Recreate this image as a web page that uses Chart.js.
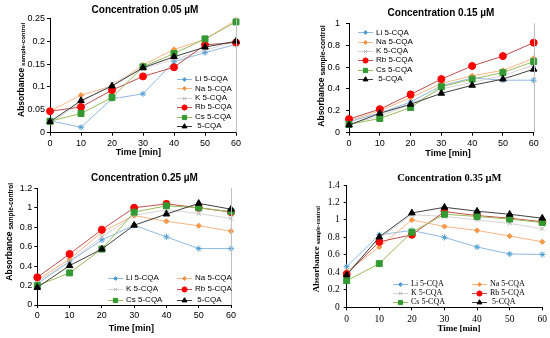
<!DOCTYPE html>
<html><head><meta charset="utf-8">
<script src="https://cdn.jsdelivr.net/npm/chart.js@4"></script>
<style>
html,body{margin:0;padding:0;background:#fff;}
#wrap{position:relative;width:550px;height:338px;overflow:hidden;}
canvas{position:absolute;}
</style></head><body>
<div id="wrap">
<canvas id="c1" width="275" height="169" style="left:0;top:0"></canvas>
<canvas id="c2" width="275" height="169" style="left:275px;top:0"></canvas>
<canvas id="c3" width="275" height="169" style="left:0;top:169px"></canvas>
<canvas id="c4" width="275" height="169" style="left:275px;top:169px"></canvas>
</div>
<script>
// ---- data ----
const times = [0, 10, 20, 30, 40, 50, 60];
const xTicks = [0, 10, 20, 30, 40, 50, 60];
const seriesNames = ['Li 5-CQA', 'Na 5-CQA', 'K 5-CQA', 'Rb 5-CQA', 'Cs 5-CQA', ' 5-CQA'];
const panelTitles = ['Concentration 0.05 µM', 'Concentration 0.15 µM', 'Concentration 0.25 µM', 'Concentration 0.35 µM'];
const xTitle = 'Time [min]';
const yTitleMain = 'Absorbance';
const yTitleSub = 'sample-control';

const yTicks005 = [0, 0.05, 0.1, 0.15, 0.2, 0.25];
const yTicks015 = [0, 0.2, 0.4, 0.6, 0.8, 1];
const yTicks025 = [0, 0.2, 0.4, 0.6, 0.8, 1, 1.2];
const yTicks035 = [0, 0.2, 0.4, 0.6, 0.8, 1, 1.2, 1.4];

// 0.05 µM
const li005  = [0.026, 0.012, 0.074, 0.085, 0.155, 0.175, 0.193];
const na005  = [0.047, 0.082, 0.102, 0.148, 0.182, 0.204, 0.246];
const k005   = [0.021, 0.066, 0.107, 0.140, 0.160, 0.180, 0.200];
const rb005  = [0.047, 0.056, 0.093, 0.123, 0.143, 0.192, 0.197];
const cs005  = [0.025, 0.042, 0.077, 0.144, 0.173, 0.205, 0.242];
const cqa005 = [0.024, 0.070, 0.102, 0.142, 0.166, 0.187, 0.200];
// 0.15 µM
const li015  = [0.10, 0.18, 0.28, 0.43, 0.50, 0.48, 0.48];
const na015  = [0.11, 0.20, 0.32, 0.45, 0.52, 0.57, 0.68];
const k015   = [0.08, 0.15, 0.26, 0.40, 0.46, 0.52, 0.62];
const rb015  = [0.125, 0.215, 0.35, 0.49, 0.61, 0.70, 0.823];
const cs015  = [0.076, 0.13, 0.23, 0.42, 0.49, 0.55, 0.65];
const cqa015 = [0.07, 0.177, 0.26, 0.36, 0.433, 0.49, 0.58];
// 0.25 µM
const li025  = [0.22, 0.445, 0.67, 0.82, 0.70, 0.58, 0.58];
const na025  = [0.26, 0.47, 0.75, 0.92, 0.86, 0.815, 0.76];
const k025   = [0.24, 0.45, 0.70, 0.92, 0.98, 0.94, 0.89];
const rb025  = [0.285, 0.525, 0.775, 1.00, 1.04, 1.00, 0.955];
const cs025  = [0.20, 0.33, 0.575, 0.955, 1.02, 1.00, 0.96];
const cqa025 = [0.18, 0.405, 0.575, 0.82, 0.935, 1.045, 0.985];
// 0.35 µM
const li035  = [0.465, 0.83, 0.88, 0.80, 0.69, 0.61, 0.605];
const na035  = [0.41, 0.69, 1.00, 0.925, 0.88, 0.815, 0.75];
const k035   = [0.39, 0.79, 1.06, 1.04, 1.00, 0.96, 0.90];
const rb035  = [0.38, 0.75, 0.83, 1.095, 1.05, 1.02, 0.98];
const cs035  = [0.305, 0.50, 0.86, 1.065, 1.04, 1.01, 0.97];
const cqa035 = [0.37, 0.805, 1.08, 1.145, 1.10, 1.065, 1.02];

// ---- styles ----
const lineColors   = ['#8DB9E2', '#F9B585', '#D4D4D4', '#C0504D', '#9BBB59', '#404040'];
const markerColors = ['#4F9FD6', '#F79646', '#B0B0B0', '#FF0000', '#339933', '#000000'];
const markerStyles = ['star', 'rectRot', 'crossRot', 'circle', 'rect', 'triangle'];
const markerRadii  = [3, 2.6, 3, 3.5, 4.2, 3.8];
const legendRadii  = [2.2, 2.0, 2.2, 2.6, 3.0, 2.8];

const panels = [
  { id: 'c1', series: [li005, na005, k005, rb005, cs005, cqa005], yTicks: yTicks005, family: 'Liberation Sans',
    area: { l: 50, r: 236, t: 18.3, b: 132.7 }, yPad: 2, xPad: 2, tickSize: 9,
    titleX: 145, titleY: 10, titleSize: 10, xTitleX: 138.3, xTitleY: 152.7, xTitleSize: 9,
    yTitleX: 21.7, yTitleStart: 117, yTitleSize: 8.5, subSize: 6, rightBorder: '#BFBFBF',
    legCols: 1, legX: [177], legY: 79, legDy: 9.4, legSize: 8 },
  { id: 'c2', series: [li015, na015, k015, rb015, cs015, cqa015], yTicks: yTicks015, family: 'Liberation Sans',
    area: { l: 74, r: 258.7, t: 23.3, b: 132.7 }, yPad: 6, xPad: 2, tickSize: 9,
    titleX: 166, titleY: 13.3, titleSize: 10, xTitleX: 173, xTitleY: 154, xTitleSize: 9,
    yTitleX: 46.7, yTitleStart: 126.7, yTitleSize: 8.5, subSize: 7, rightBorder: '#BFBFBF',
    legCols: 1, legX: [83], legY: 32.3, legDy: 9.3, legSize: 8 },
  { id: 'c3', series: [li025, na025, k025, rb025, cs025, cqa025], yTicks: yTicks025, family: 'Liberation Sans',
    area: { l: 37.3, r: 231, t: 19.3, b: 136 }, yPad: 2, xPad: 2, tickSize: 9,
    titleX: 144.5, titleY: 9, titleSize: 10, xTitleX: 131.3, xTitleY: 159.3, xTitleSize: 9,
    yTitleX: 10, yTitleStart: 111.7, yTitleSize: 8.5, subSize: 6.5, rightBorder: '#BFBFBF',
    legCols: 2, legX: [108, 177], legY: 108.5, legDy: 11, legSize: 8 },
  { id: 'c4', series: [li035, na035, k035, rb035, cs035, cqa035], yTicks: yTicks035, family: 'Liberation Serif',
    area: { l: 71.7, r: 268.3, t: 16, b: 138.3 }, yPad: 4, xPad: 3, tickSize: 9.5,
    titleX: 174.3, titleY: 9.3, titleSize: 10.5, xTitleX: 184, xTitleY: 160, xTitleSize: 9,
    yTitleX: 41.7, yTitleStart: 123.3, yTitleSize: 9, subSize: 6, rightBorder: null,
    legCols: 2, legX: [118, 197], legY: 115, legDy: 8.8, legSize: 8 }
];

function drawMarker(ctx, style, r, x, y) {
  if (Chart.helpers && Chart.helpers.drawPoint) {
    Chart.helpers.drawPoint(ctx, { pointStyle: style, radius: r, borderWidth: 1, rotation: 0 }, x, y);
  } else {
    ctx.beginPath(); ctx.arc(x, y, r, 0, Math.PI * 2); ctx.fill(); ctx.stroke();
  }
}

const overlay = {
  id: 'overlay',
  afterDraw(chart, args, p) {
    const ctx = chart.ctx;
    const a = chart.chartArea;
    ctx.save();
    if (p.rightBorder) {
      ctx.strokeStyle = p.rightBorder; ctx.lineWidth = 1;
      const xr = Math.round(a.right) + 0.5;
      ctx.beginPath(); ctx.moveTo(xr, a.top); ctx.lineTo(xr, a.bottom); ctx.stroke();
    }
    ctx.fillStyle = '#000';
    ctx.textAlign = 'center'; ctx.textBaseline = 'middle';
    ctx.font = 'bold ' + p.titleSize + 'px "' + p.family + '"';
    ctx.fillText(p.title, p.titleX, p.titleY);
    ctx.font = 'bold ' + p.xTitleSize + 'px "' + p.family + '"';
    ctx.fillText(xTitle, p.xTitleX, p.xTitleY);
    // y title with subscript
    ctx.save();
    ctx.translate(p.yTitleX, p.yTitleStart);
    ctx.rotate(-Math.PI / 2);
    ctx.textAlign = 'left';
    ctx.font = 'bold ' + p.yTitleSize + 'px "' + p.family + '"';
    ctx.fillText(yTitleMain, 0, 0);
    const w = ctx.measureText(yTitleMain).width;
    ctx.font = 'bold ' + p.subSize + 'px "' + p.family + '"';
    ctx.fillText(yTitleSub, w + 2, 1.5);
    ctx.restore();
    // legend
    chart.data.datasets.forEach((ds, i) => {
      const col = i % p.legCols, row = Math.floor(i / p.legCols);
      const x0 = p.legX[col], y = p.legY + row * p.legDy;
      ctx.strokeStyle = ds.borderColor; ctx.lineWidth = 1;
      ctx.beginPath(); ctx.moveTo(x0, Math.round(y) + 0.5); ctx.lineTo(x0 + 15, Math.round(y) + 0.5); ctx.stroke();
      ctx.fillStyle = ds.pointBackgroundColor; ctx.strokeStyle = ds.pointBorderColor; ctx.lineWidth = 1;
      drawMarker(ctx, ds.pointStyle, legendRadii[i], x0 + 7.5, Math.round(y) + 0.5);
      ctx.fillStyle = '#000'; ctx.textAlign = 'left'; ctx.textBaseline = 'middle';
      ctx.font = p.legSize + 'px "' + p.family + '"';
      ctx.fillText(ds.label, x0 + 18, y);
    });
    ctx.restore();
  }
};

panels.forEach((p, pi) => {
  const datasets = p.series.map((vals, i) => ({
    label: seriesNames[i],
    data: times.map((t, k) => ({ x: t, y: vals[k] })),
    borderColor: lineColors[i],
    backgroundColor: markerColors[i],
    pointBackgroundColor: markerColors[i],
    pointBorderColor: markerColors[i],
    pointStyle: markerStyles[i],
    pointRadius: markerRadii[i],
    pointBorderWidth: 1,
    borderWidth: 1,
    tension: 0,
    fill: false,
    clip: false,
    order: 6 - i
  }));
  const yMax = p.yTicks[p.yTicks.length - 1];
  new Chart(document.getElementById(p.id), {
    type: 'line',
    data: { datasets },
    options: {
      responsive: false,
      animation: false,
      devicePixelRatio: 1,
      layout: { padding: { left: 0, top: p.area.t, right: 275 - p.area.r, bottom: 0 } },
      plugins: {
        legend: { display: false },
        tooltip: { enabled: false },
        title: { display: false },
        overlay: Object.assign({ title: panelTitles[pi] }, p)
      },
      scales: {
        x: {
          type: 'linear', min: 0, max: 60,
          afterFit: s => { s.height = 169 - p.area.b; },
          afterBuildTicks: s => { s.ticks = xTicks.map(v => ({ value: v })); },
          ticks: { color: '#000', font: { family: p.family, size: p.tickSize }, padding: p.xPad, maxRotation: 0, autoSkip: false },
          grid: { drawOnChartArea: false, drawTicks: true, tickLength: 3, tickColor: '#000' },
          border: { display: true, color: '#000', width: 1 }
        },
        y: {
          type: 'linear', min: 0, max: yMax,
          afterFit: s => { s.width = p.area.l; },
          afterBuildTicks: s => { s.ticks = p.yTicks.map(v => ({ value: v })); },
          ticks: { color: '#000', font: { family: p.family, size: p.tickSize }, padding: p.yPad, autoSkip: false, callback: v => String(v) },
          grid: { drawOnChartArea: false, drawTicks: true, tickLength: 3, tickColor: '#000' },
          border: { display: true, color: '#000', width: 1 }
        }
      }
    },
    plugins: [overlay]
  });
});
</script>
</body></html>
